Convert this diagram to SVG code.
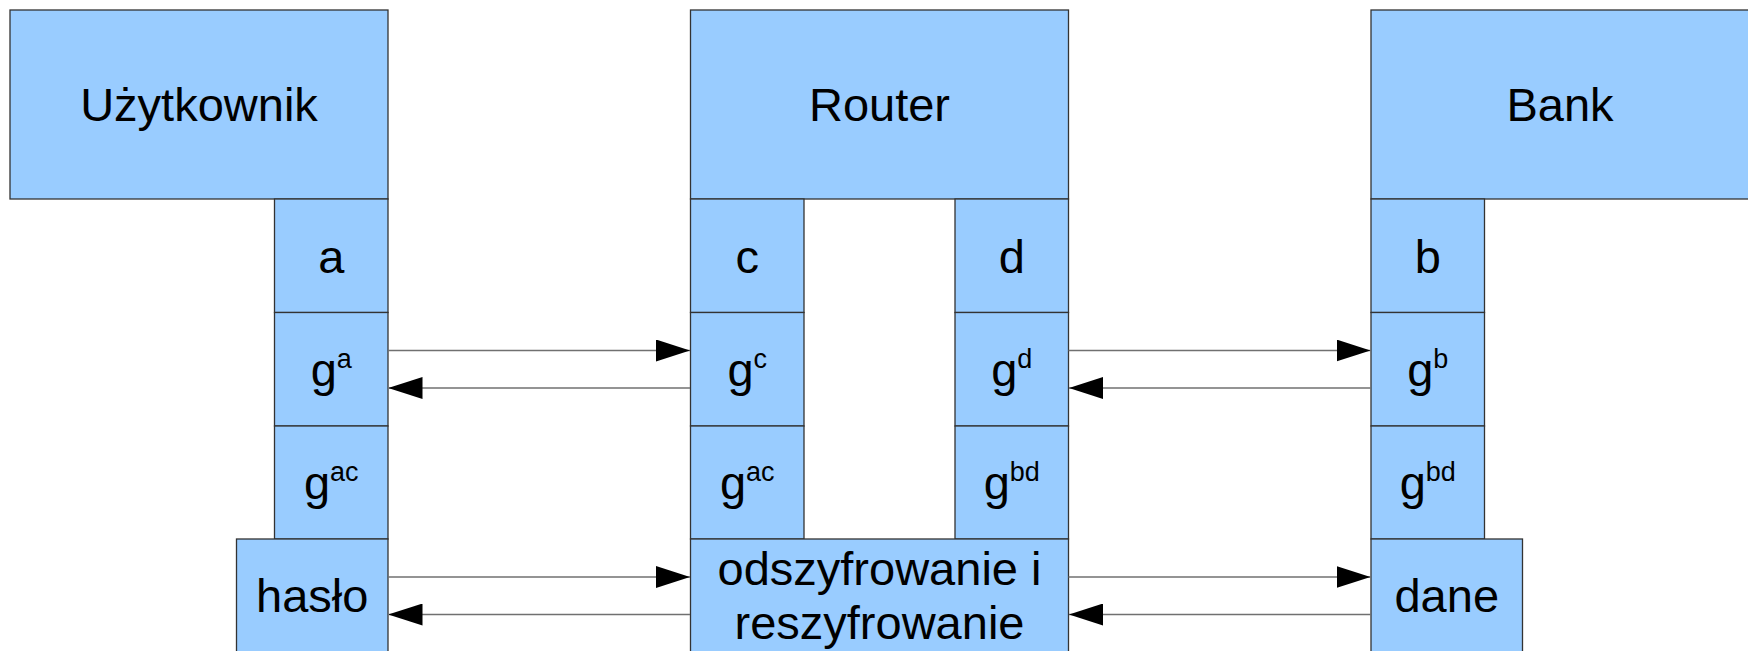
<svg xmlns="http://www.w3.org/2000/svg" width="1748" height="651" viewBox="0 0 1748 651">
<style>
.box{fill:#99ccff;stroke:#333333;stroke-width:1.3}
.t{font-family:"Liberation Sans",Arial,sans-serif;font-size:47px;fill:#000000;text-anchor:middle}
.sup{font-size:27px}
.conn{stroke:#707070;stroke-width:1.5;fill:none}
</style>
<defs>
<marker id="ah" viewBox="0 0 34 22" refX="34" refY="11" markerWidth="34" markerHeight="22" markerUnits="userSpaceOnUse" orient="auto">
<path d="M0,0 L34,11 L0,22 Z" fill="#000000"/>
</marker>
</defs>
<rect width="1748" height="651" fill="#ffffff"/>
<g id="uzytkownik"><rect class="box" x="10" y="10" width="378" height="189"/><text class="t" x="199" y="121">Użytkownik</text></g>
<g id="router"><rect class="box" x="690.5" y="10" width="378" height="189"/><text class="t" x="879.5" y="121">Router</text></g>
<g id="bank"><rect class="box" x="1371" y="10" width="378" height="189"/><text class="t" x="1560" y="121">Bank</text></g>

<g id="u-a"><rect class="box" x="274.5" y="199" width="113.5" height="113.5"/><text class="t" x="331.25" y="272.5">a</text></g>
<g id="u-ga"><rect class="box" x="274.5" y="312.5" width="113.5" height="113.5"/><text class="t" x="331.25" y="385.5">g<tspan class="sup" dy="-18">a</tspan></text></g>
<g id="u-gac"><rect class="box" x="274.5" y="426" width="113.5" height="113" /><text class="t" x="331.25" y="499">g<tspan class="sup" dy="-18">ac</tspan></text></g>
<g id="u-haslo"><rect class="box" x="236.5" y="539" width="151.5" height="113.5"/><text class="t" x="312.25" y="612">hasło</text></g>

<g id="r-c"><rect class="box" x="690.5" y="199" width="113.5" height="113.5"/><text class="t" x="747.25" y="272.5">c</text></g>
<g id="r-gc"><rect class="box" x="690.5" y="312.5" width="113.5" height="113.5"/><text class="t" x="747.25" y="385.5">g<tspan class="sup" dy="-18">c</tspan></text></g>
<g id="r-gac"><rect class="box" x="690.5" y="426" width="113.5" height="113"/><text class="t" x="747.25" y="499">g<tspan class="sup" dy="-18">ac</tspan></text></g>

<g id="r-d"><rect class="box" x="955" y="199" width="113.5" height="113.5"/><text class="t" x="1011.75" y="272.5">d</text></g>
<g id="r-gd"><rect class="box" x="955" y="312.5" width="113.5" height="113.5"/><text class="t" x="1011.75" y="385.5">g<tspan class="sup" dy="-18">d</tspan></text></g>
<g id="r-gbd"><rect class="box" x="955" y="426" width="113.5" height="113"/><text class="t" x="1011.75" y="499">g<tspan class="sup" dy="-18">bd</tspan></text></g>

<g id="r-odszyfrowanie"><rect class="box" x="690.5" y="539" width="378" height="113.5"/><text class="t" x="879.5" y="584.5">odszyfrowanie i</text><text class="t" x="879.5" y="638.5">reszyfrowanie</text></g>

<g id="b-b"><rect class="box" x="1371" y="199" width="113.5" height="113.5"/><text class="t" x="1427.75" y="272.5">b</text></g>
<g id="b-gb"><rect class="box" x="1371" y="312.5" width="113.5" height="113.5"/><text class="t" x="1427.75" y="385.5">g<tspan class="sup" dy="-18">b</tspan></text></g>
<g id="b-gbd"><rect class="box" x="1371" y="426" width="113.5" height="113"/><text class="t" x="1427.75" y="499">g<tspan class="sup" dy="-18">bd</tspan></text></g>
<g id="b-dane"><rect class="box" x="1371" y="539" width="151.5" height="113.5"/><text class="t" x="1446.75" y="612">dane</text></g>

<g id="connectors">
<line class="conn" x1="388" y1="350.5" x2="690" y2="350.5" marker-end="url(#ah)"/>
<line class="conn" x1="690" y1="388" x2="388.5" y2="388" marker-end="url(#ah)"/>
<line class="conn" x1="1068.5" y1="350.5" x2="1370.5" y2="350.5" marker-end="url(#ah)"/>
<line class="conn" x1="1371" y1="388" x2="1069" y2="388" marker-end="url(#ah)"/>
<line class="conn" x1="388" y1="577" x2="690" y2="577" marker-end="url(#ah)"/>
<line class="conn" x1="690" y1="614.5" x2="388.5" y2="614.5" marker-end="url(#ah)"/>
<line class="conn" x1="1068.5" y1="577" x2="1370.5" y2="577" marker-end="url(#ah)"/>
<line class="conn" x1="1371" y1="614.5" x2="1069" y2="614.5" marker-end="url(#ah)"/>
</g>
</svg>
